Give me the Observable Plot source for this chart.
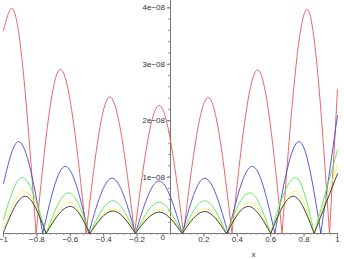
<!DOCTYPE html>
<html><head><meta charset="utf-8">
<script src="https://cdn.jsdelivr.net/npm/d3@7"></script>
<script src="https://cdn.jsdelivr.net/npm/@observablehq/plot@0.6"></script>
<style>body{margin:0;background:#fff}</style>
</head><body><div id="chart"></div>
<script>
// values in units of 1e-8
const redX = [-1, -0.95, -0.805, -0.66, -0.505, -0.364, -0.215, -0.068, 0.078, 0.226, 0.368, 0.522, 0.668, 0.818, 0.952, 1];
const redY = [3.6, 3.99, 0, 2.91, 0, 2.42, 0, 2.27, 0, 2.41, 0, 2.90, 0, 3.97, 0, 2.55];

const blueX = [-1, -0.91, -0.765, -0.63, -0.49, -0.35, -0.21, -0.068, 0.07, 0.205, 0.345, 0.49, 0.625, 0.77, 0.90, 1];
const blueY = [0.89, 1.63, 0, 1.19, 0, 0.98, 0, 0.93, 0, 0.98, 0, 1.19, 0, 1.63, 0, 2.09];

const greenX = [-1, -0.89, -0.745, -0.61, -0.483, -0.345, -0.21, -0.068, 0.07, 0.205, 0.335, 0.475, 0.6, 0.75, 0.86, 1];
const greenY = [0.24, 0.99, 0, 0.72, 0, 0.58, 0, 0.555, 0, 0.58, 0, 0.72, 0, 0.99, 0, 1.48];

const yellowX = [-1, -0.876, -0.745, -0.605, -0.483, -0.345, -0.21, -0.068, 0.07, 0.205, 0.335, 0.47, 0.6, 0.745, 0.86, 1];
const yellowY = [0.1, 0.75, 0, 0.55, 0, 0.44, 0, 0.43, 0, 0.44, 0, 0.55, 0, 0.75, 0, 1.21];

const blackX = [-1, -0.87, -0.745, -0.6, -0.483, -0.345, -0.21, -0.068, 0.07, 0.205, 0.335, 0.465, 0.6, 0.735, 0.86, 1];
const blackY = [0.02, 0.66, 0, 0.48, 0, 0.40, 0, 0.38, 0, 0.39, 0, 0.48, 0, 0.66, 0, 1.06];

const xTicks = [-1, -0.8, -0.6, -0.4, -0.2, 0.2, 0.4, 0.6, 0.8, 1];
const xLabels = ["−1", "−0.8", "−0.6", "−0.4", "−0.2", "0.2", "0.4", "0.6", "0.8", "1"];
const yTicks = [1, 2, 3, 4];
const yLabels = ["1e−08", "2e−08", "3e−08", "4e−08"];
const xDomain = [-1, 1];
const yDomain = [0, 4.13];

function arcs(xs, ys, name) {
  const out = []; let arc = 0;
  for (let i = 0; i < xs.length; i++) {
    out.push({x: xs[i], y: ys[i], arc: name + arc});
    if (ys[i] === 0 && i > 0 && i < xs.length - 1) {
      arc++;
      out.push({x: xs[i], y: ys[i], arc: name + arc});
    }
  }
  return out;
}

const series = [
  {name: "red", xs: redX, ys: redY, color: "#e85555"},
  {name: "blue", xs: blueX, ys: blueY, color: "#4646d8"},
  {name: "green", xs: greenX, ys: greenY, color: "#55e655"},
  {name: "yellow", xs: yellowX, ys: yellowY, color: "#f4f450"},
  {name: "black", xs: blackX, ys: blackY, color: "#2a2a2a"}
];

const xMinor = d3.range(-25, 26).map(i => i * 0.04);
const yMinor = d3.range(0, 21).map(i => i * 0.2);
const font = "Liberation Sans, Arial, sans-serif";
const txt = "#333";

const chart = Plot.plot({
  width: 344, height: 259,
  marginLeft: 3, marginRight: 7, marginTop: 0, marginBottom: 26,
  x: {domain: xDomain, axis: null},
  y: {domain: yDomain, axis: null},
  style: {fontFamily: font, fontSize: "8px", background: "#fff"},
  marks: [
    Plot.ruleY([0], {x1: xDomain[0], x2: xDomain[1], stroke: "#777"}),
    Plot.ruleX([0], {y1: yDomain[0], y2: yDomain[1], stroke: "#777"}),
    Plot.ruleX(xMinor, {x: d => d, y1: 0, y2: -0.035, stroke: "#999"}),
    Plot.ruleX(xTicks, {x: d => d, y1: 0, y2: -0.065, stroke: "#777"}),
    Plot.ruleY(yMinor, {y: d => d, x1: 0, x2: -0.012, stroke: "#999"}),
    Plot.ruleY(yTicks, {y: d => d, x1: 0, x2: -0.02, stroke: "#777"}),
    ...series.map(s => Plot.line(arcs(s.xs, s.ys, s.name), {
      x: "x", y: "y", z: "arc", stroke: s.color, strokeWidth: 0.9, curve: "monotone-x"
    })),
    Plot.text(xTicks, {x: d => d, y: 0, dy: 6, text: (d, i) => xLabels[i], fill: txt, fontSize: 8, fontFamily: font}),
    Plot.text(yTicks, {x: 0, y: d => d, dx: -5.5, textAnchor: "end", text: (d, i) => yLabels[i], fill: txt, fontSize: 8, fontFamily: font}),
    Plot.text(["0"], {x: 0, y: 0, dx: -5.5, dy: 4, textAnchor: "end", text: d => d, fill: txt, fontSize: 8, fontFamily: font}),
    Plot.text(["x"], {frameAnchor: "bottom", dx: 83, dy: 23, text: d => d, fill: txt, fontSize: 8, fontFamily: font})
  ]
});
document.getElementById("chart").appendChild(chart);
</script>
</body></html>
